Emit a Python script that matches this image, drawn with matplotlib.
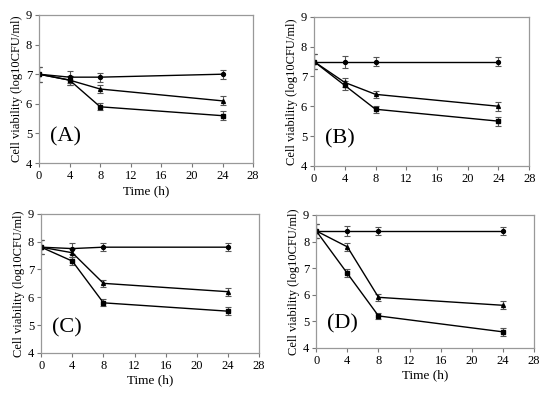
import numpy as np
import matplotlib
matplotlib.use('Agg')
import matplotlib.pyplot as plt

plt.rcParams['font.family'] = ['Liberation Serif', 'DejaVu Serif']

time = [0, 4, 8, 24]
panels = ['(A)', '(B)', '(C)', '(D)']

# circle (top), triangle (middle), square (bottom) for each panel
circ = [[7.0, 6.9, 6.9, 7.0],
        [7.5, 7.5, 7.5, 7.5],
        [7.8, 7.75, 7.8, 7.8],
        [8.4, 8.4, 8.4, 8.4]]
tri = [[7.0, 6.8, 6.5, 6.1],
       [7.5, 6.8, 6.4, 6.0],
       [7.8, 7.6, 6.5, 6.2],
       [8.4, 7.8, 5.9, 5.6]]
sq = [[7.0, 6.8, 5.9, 5.6],
      [7.5, 6.7, 5.9, 5.5],
      [7.8, 7.3, 5.8, 5.5],
      [8.4, 6.8, 5.2, 4.6]]
err_c = [0.25, 0.2, 0.15, 0.15]
err_t = [0.25, 0.15, 0.12, 0.15]
err_s = [0.25, 0.15, 0.12, 0.15]

pos = [[0.071, 0.585, 0.390, 0.377],
       [0.572, 0.578, 0.392, 0.379],
       [0.075, 0.102, 0.397, 0.354],
       [0.576, 0.115, 0.397, 0.338]]
show_xlab = [True, False, True, True]

fig = plt.figure(figsize=(5.49, 3.93), dpi=100)
for i in range(4):
    ax = fig.add_axes(pos[i])
    for yv, er, mk in [(circ[i], err_c, 'o'), (tri[i], err_t, '^'), (sq[i], err_s, 's')]:
        ax.errorbar(time, yv, yerr=er, color='black', ecolor='#555555',
                    marker=mk, markersize=2.8, lw=1.0, elinewidth=0.8,
                    capsize=2.5, capthick=0.8)
    ax.set_xlim(0, 28)
    ax.set_ylim(4, 9)
    ax.set_xticks(np.arange(0, 29, 4))
    ax.set_yticks(np.arange(4, 10, 1))
    for s in ax.spines.values():
        s.set_color('#999999')
        s.set_linewidth(0.9)
    ax.tick_params(labelsize=9, length=3, direction='out', color='#777777', pad=2)
    ax.set_ylabel('Cell viability (log10CFU/ml)', fontsize=9, labelpad=2)
    if show_xlab[i]:
        ax.set_xlabel('Time (h)', fontsize=9.5, labelpad=2)
    ax.text(0.05, 0.18, panels[i], transform=ax.transAxes, fontsize=16,
            va='center', ha='left')

fig.savefig('out.png', dpi=100)
